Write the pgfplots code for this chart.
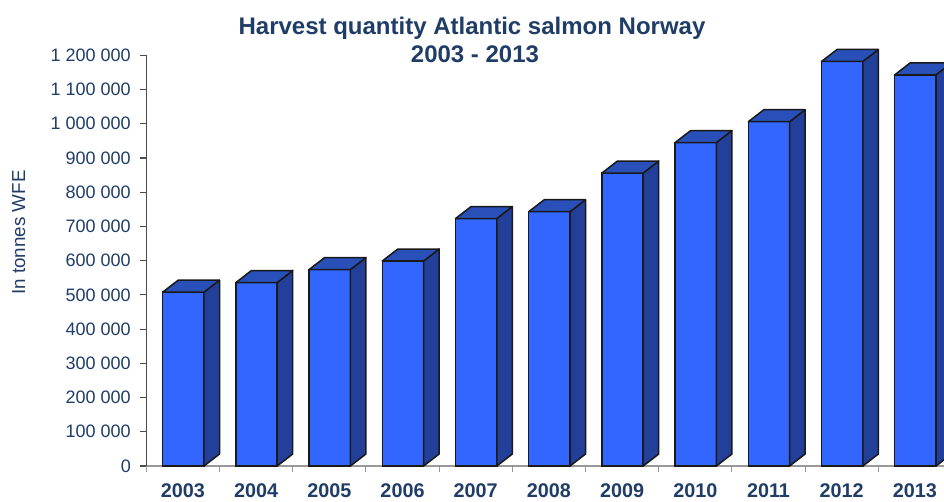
\documentclass[border=0pt]{standalone}
\usepackage{pgfplots}
\pgfplotsset{compat=1.18}
\usepackage{pgfplotstable}
\usepackage{fontspec}
\setmainfont{Liberation Sans}
\definecolor{txt}{HTML}{1F3D66}
\definecolor{front}{HTML}{3366FF}
\definecolor{sidec}{HTML}{224099}
\definecolor{topc}{HTML}{2850B8}
\pgfplotstableread{
x v
0.506 508000
1.506 536000
2.506 574000
3.506 599000
4.506 723000
5.506 743000
6.506 856000
7.506 945000
8.506 1006000
9.506 1182000
10.506 1143000
}\fronts
\pgfplotsset{side/.style={fill=sidec,draw=black!90,line width=1.5pt,line join=round},
top/.style={fill=topc,draw=black!90,line width=1.5pt,line join=round}}
\begin{document}
\begin{tikzpicture}[x=1pt,y=1pt]
\path[use as bounding box,clip] (-146.3,-35) rectangle (797.7,466);
\begin{axis}[
  at={(0,0)},anchor=south west,
  scale only axis,width=797.7pt,height=410.7pt,
  xmin=0,xmax=10.897,ymin=0,ymax=1200000,clip=false,
  scaled y ticks=false,
  axis x line*=bottom,axis y line*=left,
  axis line style={-},
  x axis line style={draw=black!40,line width=1.2pt},
  y axis line style={draw=black!70,line width=1.4pt},
  xtick={0.5,1.5,2.5,3.5,4.5,5.5,6.5,7.5,8.5,9.5,10.5},
  xticklabels={2003,2004,2005,2006,2007,2008,2009,2010,2011,2012,2013},
  minor xtick={0,1,2,3,4,5,6,7,8,9,10},
  major tick length=6pt,
  minor tick length=6pt,
  tick align=outside,
  x tick style={draw=none},
  minor x tick style={draw=black!40,line width=1pt},
  x tick label style={font=\fontsize{19.8}{19.8}\selectfont\bfseries,text=txt,anchor=base,yshift=-25pt},
  ytick={0,100000,200000,300000,400000,500000,600000,700000,800000,900000,1000000,1100000,1200000},
  yticklabels={0,100 000,200 000,300 000,400 000,500 000,600 000,700 000,800 000,900 000,1 000 000,1 100 000,1 200 000},
  y tick style={draw=black!70,line width=1.2pt},
  y tick label style={font=\fontsize{18}{18}\selectfont,text=txt,anchor=east,xshift=-6pt},
]
\addplot[ybar,bar width=41.3pt,fill=front,draw=black!90,line width=1.5pt] table[x=x,y=v] {\fronts};
\addplot[side] coordinates {(0.788,0)(1,35000)(1,543000)(0.788,508000)} -- cycle;
\addplot[top] coordinates {(0.224,508000)(0.436,543000)(1,543000)(0.788,508000)} -- cycle;
\addplot[side] coordinates {(1.788,0)(2,35000)(2,571000)(1.788,536000)} -- cycle;
\addplot[top] coordinates {(1.224,536000)(1.436,571000)(2,571000)(1.788,536000)} -- cycle;
\addplot[side] coordinates {(2.788,0)(3,35000)(3,609000)(2.788,574000)} -- cycle;
\addplot[top] coordinates {(2.224,574000)(2.436,609000)(3,609000)(2.788,574000)} -- cycle;
\addplot[side] coordinates {(3.788,0)(4,35000)(4,634000)(3.788,599000)} -- cycle;
\addplot[top] coordinates {(3.224,599000)(3.436,634000)(4,634000)(3.788,599000)} -- cycle;
\addplot[side] coordinates {(4.788,0)(5,35000)(5,758000)(4.788,723000)} -- cycle;
\addplot[top] coordinates {(4.224,723000)(4.436,758000)(5,758000)(4.788,723000)} -- cycle;
\addplot[side] coordinates {(5.788,0)(6,35000)(6,778000)(5.788,743000)} -- cycle;
\addplot[top] coordinates {(5.224,743000)(5.436,778000)(6,778000)(5.788,743000)} -- cycle;
\addplot[side] coordinates {(6.788,0)(7,35000)(7,891000)(6.788,856000)} -- cycle;
\addplot[top] coordinates {(6.224,856000)(6.436,891000)(7,891000)(6.788,856000)} -- cycle;
\addplot[side] coordinates {(7.788,0)(8,35000)(8,980000)(7.788,945000)} -- cycle;
\addplot[top] coordinates {(7.224,945000)(7.436,980000)(8,980000)(7.788,945000)} -- cycle;
\addplot[side] coordinates {(8.788,0)(9,35000)(9,1041000)(8.788,1006000)} -- cycle;
\addplot[top] coordinates {(8.224,1006000)(8.436,1041000)(9,1041000)(8.788,1006000)} -- cycle;
\addplot[side] coordinates {(9.788,0)(10,35000)(10,1217000)(9.788,1182000)} -- cycle;
\addplot[top] coordinates {(9.224,1182000)(9.436,1217000)(10,1217000)(9.788,1182000)} -- cycle;
\addplot[side] coordinates {(10.788,0)(11,35000)(11,1178000)(10.788,1143000)} -- cycle;
\addplot[top] coordinates {(10.224,1143000)(10.436,1178000)(11,1178000)(10.788,1143000)} -- cycle;
\end{axis}
\node[anchor=base,text=txt,font=\fontsize{24}{24}\selectfont\bfseries] at (325.7,431.5) {Harvest quantity Atlantic salmon Norway};
\node[anchor=base,text=txt,font=\fontsize{24}{24}\selectfont\bfseries] at (328.7,403.5) {2003 - 2013};
\node[rotate=90,text=txt,font=\fontsize{18.8}{18.8}\selectfont] at (-127.5,233.5) {In tonnes WFE};
\end{tikzpicture}
\end{document}
